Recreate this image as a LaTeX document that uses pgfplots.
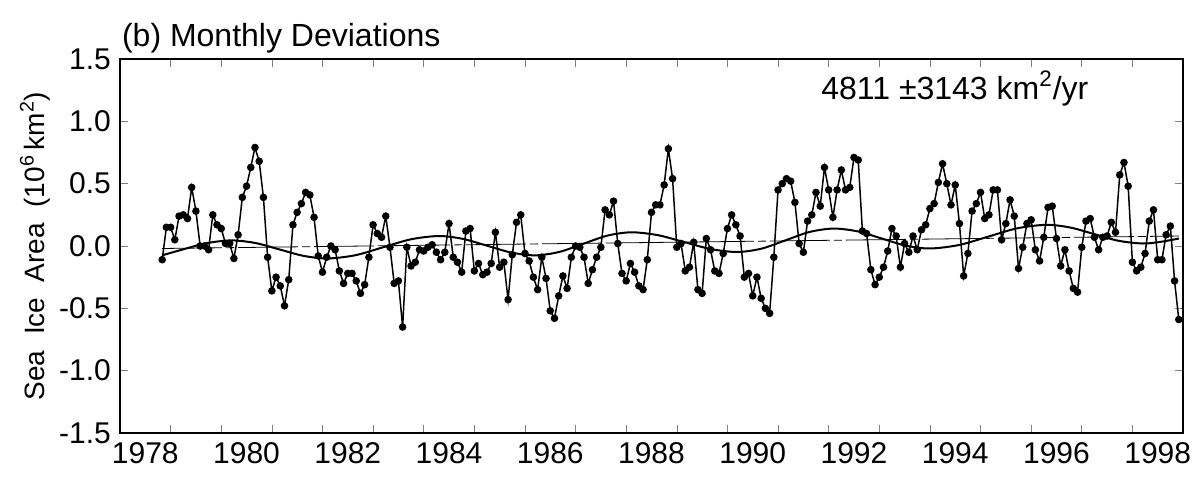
\documentclass[border=0pt]{standalone}
\usepackage{pgfplots}
\usepackage{pgfplotstable}
\pgfplotsset{compat=1.18}
\usepackage{fontspec}
\setmainfont{Liberation Sans}

% Monthly sea ice area deviations, Nov 1978 - Dec 1998 (10^6 km^2), one row per month
\pgfplotstableread[row sep=\\]{
v\\
-0.11\\ 0.15\\
0.15\\ 0.05\\ 0.24\\ 0.25\\ 0.22\\ 0.47\\ 0.28\\ 0.00\\ 0.00\\ -0.03\\ 0.25\\ 0.17\\
0.14\\ 0.02\\ 0.02\\ -0.10\\ 0.09\\ 0.39\\ 0.48\\ 0.63\\ 0.79\\ 0.68\\ 0.39\\ -0.09\\
-0.36\\ -0.25\\ -0.32\\ -0.48\\ -0.27\\ 0.17\\ 0.27\\ 0.34\\ 0.43\\ 0.41\\ 0.23\\ -0.08\\
-0.21\\ -0.09\\ 0.00\\ -0.03\\ -0.20\\ -0.30\\ -0.22\\ -0.22\\ -0.28\\ -0.38\\ -0.31\\ -0.09\\
0.17\\ 0.10\\ 0.07\\ 0.24\\ -0.01\\ -0.30\\ -0.28\\ -0.65\\ -0.01\\ -0.16\\ -0.13\\ -0.03\\
-0.04\\ -0.01\\ 0.01\\ -0.05\\ -0.11\\ -0.05\\ 0.18\\ -0.09\\ -0.13\\ -0.21\\ 0.12\\ 0.14\\
-0.20\\ -0.14\\ -0.23\\ -0.21\\ -0.14\\ 0.11\\ -0.17\\ -0.13\\ -0.43\\ -0.07\\ 0.19\\ 0.25\\
-0.06\\ -0.12\\ -0.25\\ -0.35\\ -0.09\\ -0.26\\ -0.52\\ -0.58\\ -0.40\\ -0.24\\ -0.34\\ -0.09\\
0.00\\ -0.01\\ -0.09\\ -0.30\\ -0.19\\ -0.09\\ -0.01\\ 0.29\\ 0.25\\ 0.36\\ 0.02\\ -0.22\\
-0.28\\ -0.14\\ -0.21\\ -0.32\\ -0.35\\ -0.11\\ 0.27\\ 0.33\\ 0.33\\ 0.49\\ 0.78\\ 0.54\\
-0.01\\ 0.02\\ -0.20\\ -0.17\\ 0.03\\ -0.35\\ -0.38\\ 0.06\\ -0.03\\ -0.20\\ -0.22\\ -0.06\\
0.14\\ 0.25\\ 0.17\\ 0.08\\ -0.25\\ -0.22\\ -0.40\\ -0.25\\ -0.42\\ -0.50\\ -0.54\\ -0.09\\
0.45\\ 0.50\\ 0.54\\ 0.52\\ 0.35\\ 0.02\\ -0.05\\ 0.20\\ 0.25\\ 0.43\\ 0.32\\ 0.63\\
0.45\\ 0.23\\ 0.45\\ 0.61\\ 0.45\\ 0.47\\ 0.71\\ 0.69\\ 0.12\\ 0.10\\ -0.19\\ -0.31\\
-0.25\\ -0.17\\ -0.04\\ 0.14\\ 0.08\\ -0.17\\ 0.02\\ -0.05\\ 0.08\\ -0.03\\ 0.13\\ 0.17\\
0.30\\ 0.34\\ 0.51\\ 0.66\\ 0.50\\ 0.33\\ 0.49\\ 0.18\\ -0.24\\ -0.06\\ 0.28\\ 0.34\\
0.43\\ 0.22\\ 0.25\\ 0.45\\ 0.45\\ 0.05\\ 0.18\\ 0.37\\ 0.24\\ -0.18\\ -0.01\\ 0.18\\
0.21\\ -0.03\\ -0.12\\ 0.07\\ 0.31\\ 0.32\\ 0.06\\ -0.16\\ -0.03\\ -0.20\\ -0.34\\ -0.37\\
-0.01\\ 0.20\\ 0.22\\ 0.07\\ -0.03\\ 0.07\\ 0.08\\ 0.19\\ 0.11\\ 0.57\\ 0.67\\ 0.48\\
-0.13\\ -0.20\\ -0.17\\ -0.06\\ 0.20\\ 0.29\\ -0.11\\ -0.11\\ 0.09\\ 0.16\\ -0.28\\ -0.59\\
}\monthly

\begin{document}
\begin{tikzpicture}
\begin{axis}[
  scale only axis,
  width=531.5pt, height=187pt,
  xmin=1978, xmax=1999,
  ymin=-1.5, ymax=1.5,
  clip=false,
  axis line style={line width=0.8pt},
  xtick={1978,...,1999},
  xticklabels={},
  minor x tick num=11,
  major tick length=4pt,
  minor tick length=2.2pt,
  extra x ticks={1978.5,1980.5,1982.5,1984.5,1986.5,1988.5,1990.5,1992.5,1994.5,1996.5,1998.5},
  extra x tick labels={1978,1980,1982,1984,1986,1988,1990,1992,1994,1996,1998},
  extra x tick style={major tick length=0pt},
  ytick={-1.5,-1,-0.5,0,0.5,1,1.5},
  yticklabels={-1.5,-1.0,-0.5,0.0,0.5,1.0,1.5},
  ticklabel style={font=\fontsize{15}{15}\selectfont},
  xticklabel style={yshift=-1pt},
  yticklabel style={xshift=-1pt},
  every axis y label/.style={at={(axis description cs:-0.08,0.5)}, rotate=90, anchor=center},
  ylabel={\fontsize{14}{14}\selectfont Sea\ \ Ice\ \ Area\ \ (10\textsuperscript{6}\,km\textsuperscript{2})},
]
% linear trend
\addplot[black, line width=0.4pt, dash pattern=on 30pt off 2pt on 4pt off 2pt]
  coordinates {(1978.83,-0.02) (1998.92,0.08)};
% fitted oscillation
\addplot[black, line width=1pt, smooth] coordinates {
(1978.83,-0.075) (1979.2,-0.0325) (1979.7,0.022) (1980.2,0.045) (1980.675,0.024)
(1981.15,-0.0275) (1981.625,-0.079) (1982.1,-0.10) (1982.65,-0.074) (1983.2,-0.01)
(1983.75,0.054) (1984.3,0.08) (1984.775,0.057) (1985.25,0.0025) (1985.725,-0.052)
(1986.2,-0.075) (1986.675,-0.048) (1987.15,0.0175) (1987.625,0.083) (1988.1,0.11)
(1988.625,0.087) (1989.15,0.031) (1989.675,-0.025) (1990.2,-0.048) (1990.675,-0.021)
(1991.15,0.046) (1991.625,0.113) (1992.1,0.14) (1992.575,0.117) (1993.05,0.06)
(1993.525,0.003) (1994.0,-0.02) (1994.575,0.008) (1995.15,0.075) (1995.725,0.142)
(1996.3,0.17) (1996.775,0.148) (1997.25,0.095) (1997.725,0.042) (1998.2,0.02)
(1998.55,0.033) (1998.92,0.06)};
% monthly deviations
\addplot[black, line width=0.75pt, mark=*, mark size=1.5pt]
  table[x expr={1978.8333+\coordindex/12}, y=v] {\monthly};
\node[anchor=base east, font=\fontsize{16}{16}\selectfont] at (axis cs:1997.27,1.177)
  {4811 \textpm3143 km\textsuperscript{2}/yr};
\node[anchor=base west, font=\fontsize{16}{16}\selectfont, xshift=-2.5pt, yshift=6.5pt]
  at (rel axis cs:0,1) {(b) Monthly Deviations};
\coordinate (bbsw) at ([xshift=-60pt, yshift=-21.5pt]rel axis cs:0,0);
\coordinate (bbne) at ([xshift=6.5pt, yshift=29.5pt]rel axis cs:1,1);
\end{axis}
\pgfresetboundingbox
\path (bbsw) rectangle (bbne);
\end{tikzpicture}
\end{document}
